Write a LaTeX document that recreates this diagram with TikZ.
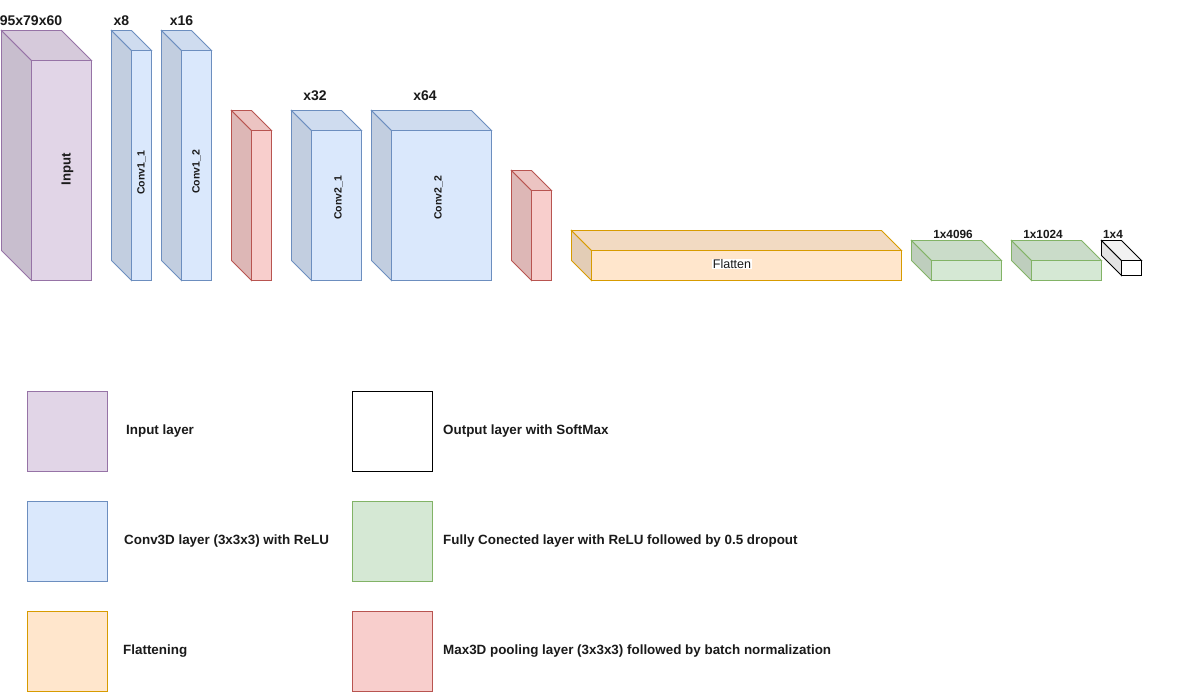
\documentclass[tikz,border=0pt]{standalone}
\usepackage{fontspec}
\setmainfont{Liberation Sans}
\definecolor{inpF}{HTML}{E1D5E7}\definecolor{inpD}{HTML}{9673A6}
\definecolor{convF}{HTML}{DAE8FC}\definecolor{convD}{HTML}{6C8EBF}
\definecolor{poolF}{HTML}{F8CECC}\definecolor{poolD}{HTML}{B85450}
\definecolor{flatF}{HTML}{FFE6CC}\definecolor{flatD}{HTML}{D79B00}
\definecolor{fcF}{HTML}{D5E8D4}\definecolor{fcD}{HTML}{82B366}
\definecolor{outF}{HTML}{FFFFFF}\definecolor{outD}{HTML}{000000}
\definecolor{txt}{HTML}{1A1A1A}
\tikzset{
  cubeline/.style={line width=0.9pt, line join=miter},
  toplabel/.style={font=\fontsize{14}{16}\selectfont\bfseries, text=txt, inner sep=0pt},
  fclabel/.style={font=\fontsize{11.8}{14}\selectfont\bfseries, text=txt, inner sep=0pt},
  inlabel/.style={font=\fontsize{10.5}{12}\selectfont\bfseries, text=txt, inner sep=0pt, rotate=90},
  leglabel/.style={font=\fontsize{13.4}{16}\selectfont\bfseries, text=txt, inner sep=0pt, anchor=west},
  legbox/.style={line width=0.9pt, minimum width=80pt, minimum height=80pt, inner sep=0pt, anchor=north west},
}
\newcommand\cubeshape[7]{%
  \filldraw[cubeline, draw=#2, fill=#1!89!black] (#3,#4) -- (#3+#7,#4+#7) -- (#3+#7,#6) -- (#3,#6-#7) -- cycle;
  \filldraw[cubeline, draw=#2, fill=#1!95!black] (#3,#4) -- (#5-#7,#4) -- (#5,#4+#7) -- (#3+#7,#4+#7) -- cycle;
  \filldraw[cubeline, draw=#2, fill=#1] (#3+#7,#4+#7) rectangle (#5,#6);
}
\begin{document}
\begin{tikzpicture}[x=1pt,y=-1pt]
\useasboundingbox[fill=white] (0,0) rectangle (1182,691);
% cubes
\cubeshape{inpF}{inpD}{1.5}{30.5}{91.5}{280.5}{30}
\cubeshape{convF}{convD}{111.5}{30.5}{151.5}{280.5}{20}
\cubeshape{convF}{convD}{161.5}{30.5}{211.5}{280.5}{20}
\cubeshape{poolF}{poolD}{231.5}{110.5}{271.5}{280.5}{20}
\cubeshape{convF}{convD}{291.5}{110.5}{361.5}{280.5}{20}
\cubeshape{convF}{convD}{371.5}{110.5}{491.5}{280.5}{20}
\cubeshape{poolF}{poolD}{511.5}{170.5}{551.5}{280.5}{20}
\cubeshape{flatF}{flatD}{571.5}{230.5}{901.5}{280.5}{20}
\cubeshape{fcF}{fcD}{911.5}{240.5}{1001.5}{280.5}{20}
\cubeshape{fcF}{fcD}{1011.5}{240.5}{1101.5}{280.5}{20}
\cubeshape{outF}{outD}{1101.5}{240.5}{1141.5}{275.5}{20}
% labels inside
\node[inlabel, font=\fontsize{13.2}{15}\selectfont\bfseries] (linput) at (67.5,169) {Input};
\node[inlabel] (lc11) at (141.5,173) {Conv1\_1};
\node[inlabel] (lc12) at (196.5,172) {Conv1\_2};
\node[inlabel] (lc21) at (338.5,198) {Conv2\_1};
\node[inlabel] (lc22) at (438.5,198) {Conv2\_2};
\node[font=\fontsize{12.5}{14}\selectfont, text=txt, fill=white, inner sep=0.5pt] (lflat) at (732,264) {Flatten};
% labels above
\node[toplabel] (t1) at (31,21) {95x79x60};
\node[toplabel] (t2) at (121.5,21) {x8};
\node[toplabel] (t3) at (181.5,21) {x16};
\node[toplabel] (t4) at (315,96) {x32};
\node[toplabel] (t5) at (425,96) {x64};
\node[fclabel] (t6) at (953,234) {1x4096};
\node[fclabel] (t7) at (1043,234) {1x1024};
\node[fclabel] (t8) at (1113,234) {1x4};
% legend
\node[legbox, draw=inpD, fill=inpF] (k1) at (26.5,390.5) {};
\node[legbox, draw=convD, fill=convF] (k2) at (26.5,500.5) {};
\node[legbox, draw=flatD, fill=flatF] (k3) at (26.5,610.5) {};
\node[legbox, draw=outD, fill=outF] (k4) at (351.5,390.5) {};
\node[legbox, draw=fcD, fill=fcF] (k5) at (351.5,500.5) {};
\node[legbox, draw=poolD, fill=poolF] (k6) at (351.5,610.5) {};
\node[leglabel] (d1) at (126,431) {Input layer};
\node[leglabel] (d2) at (124,541) {Conv3D layer (3x3x3) with ReLU};
\node[leglabel] (d3) at (123,651) {Flattening};
\node[leglabel] (d4) at (443,431) {Output layer with SoftMax};
\node[leglabel] (d5) at (443,541) {Fully Conected layer with ReLU followed by 0.5 dropout};
\node[leglabel] (d6) at (443,651) {Max3D pooling layer (3x3x3) followed by batch normalization};
\end{tikzpicture}
\end{document}
